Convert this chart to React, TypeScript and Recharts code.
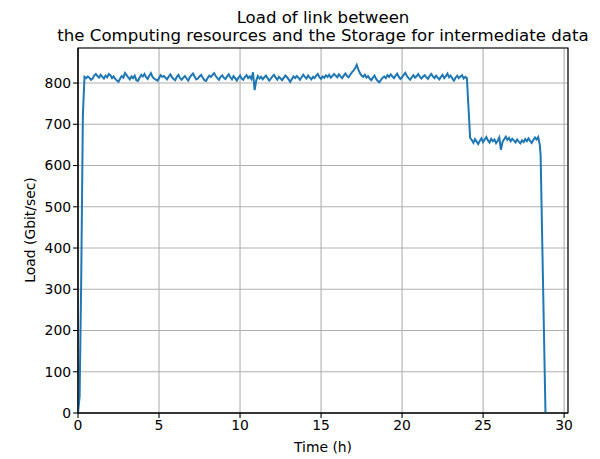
import React from "react";
import {
  LineChart,
  Line,
  XAxis,
  YAxis,
  CartesianGrid,
  ReferenceArea,
  Label,
} from "recharts";

const titleLines = [
  "Load of link between",
  "the Computing resources and the Storage for intermediate data",
];
const xLabel = "Time (h)";
const yLabel = "Load (Gbit/sec)";
const xTicks = [0, 5, 10, 15, 20, 25, 30];
const yTicks = [0, 100, 200, 300, 400, 500, 600, 700, 800];

// ramp-up
const rampTimes = [0, 0.1, 0.2, 0.3];
const rampLoads = [0, 40, 330, 720];

// first plateau, sampled every 0.1 h from 0.4 h to 24.0 h
const plateau1Start = 0.4;
const sampleStep = 0.1;
const plateau1Loads = [
  815, 812, 816, 813, 808, 811, 818, 822, 817, 813,
  820, 815, 811, 818, 814, 822, 819, 812, 816, 810,
  806, 803, 811, 817, 813, 824, 819, 814, 809, 816,
  812, 818, 807, 805, 813, 820, 816, 822, 814, 810,
  818, 824, 815, 811, 808, 806, 812, 819, 815, 817,
  813, 809, 816, 821, 814, 810, 807, 815, 820, 812,
  808, 813, 817, 811, 806, 814, 819, 823, 815, 809,
  811, 816, 820, 813, 807, 805, 812, 818, 815, 820,
  824, 817, 812, 808, 815, 819, 813, 810, 816, 821,
  814, 809, 817, 812, 806, 813, 818, 811, 808, 815,
  819, 812, 816, 810, 826, 783, 806, 817, 811, 815,
  809, 814, 818, 812, 806, 811, 816, 820, 813, 808,
  815, 811, 807, 813, 818, 814, 809, 803, 810, 816,
  812, 817, 813, 808, 814, 820, 815, 811, 818, 813,
  809, 815, 812, 818, 822, 814, 810, 816, 813, 819,
  815, 820, 813, 817, 822, 818, 814, 821, 816, 812,
  818, 823, 817, 814, 820, 826, 830, 836, 844, 833,
  824, 818, 815, 820, 813, 817, 811, 807, 813, 818,
  810, 805, 802, 808, 813, 816, 812, 819, 815, 821,
  816, 812, 818, 823, 815, 810, 814, 820, 825, 817,
  812, 808, 814, 819, 813, 817, 822, 815, 811, 816,
  819, 814, 810, 817, 822, 816, 812, 818, 813, 809,
  815, 820, 812, 817, 823, 814, 818, 811, 806, 813,
  818, 812, 816, 819, 811, 815, 812,
];

// first drop
const drop1Times = [24.1, 24.2];
const drop1Loads = [740, 667];

// second plateau, every 0.1 h from 24.3 h to 28.4 h
const plateau2Start = 24.3;
const plateau2Loads = [
  662, 655, 664, 658, 652, 660, 666, 657, 663, 669,
  661, 656, 665, 659, 663, 654, 660, 668, 638, 657,
  664, 670, 662, 667, 659, 665, 661, 656, 663, 658,
  654, 661, 657, 664, 659, 666, 660, 655, 662, 668,
  663, 669,
];

// final drop
const endTimes = [28.5, 28.55, 28.85];
const endLoads = [650, 625, 0];

const r2 = (v: number) => Math.round(v * 100) / 100;

const data: { t: number; load: number }[] = [];
rampTimes.forEach((t, i) => data.push({ t, load: rampLoads[i] }));
plateau1Loads.forEach((v, i) =>
  data.push({ t: r2(plateau1Start + i * sampleStep), load: v })
);
drop1Times.forEach((t, i) => data.push({ t, load: drop1Loads[i] }));
plateau2Loads.forEach((v, i) =>
  data.push({ t: r2(plateau2Start + i * sampleStep), load: v })
);
endTimes.forEach((t, i) => data.push({ t, load: endLoads[i] }));

const FONT = "'DejaVu Sans', sans-serif";
const X_MAX = 30.24;
const Y_MAX = 885;

export default function App() {
  return (
    <div style={{ position: "absolute", left: 0, top: 0, width: 600, height: 459, background: "#fff" }}>
      <svg
        width={600}
        height={459}
        style={{ position: "absolute", left: 0, top: 0, pointerEvents: "none" }}
      >
        <text x={323} y={23} textAnchor="middle" fontFamily={FONT} fontSize={16.6} fill="#000">
          {titleLines[0]}
        </text>
        <text x={323} y={41} textAnchor="middle" fontFamily={FONT} fontSize={16.6} fill="#000">
          {titleLines[1]}
        </text>
      </svg>
      <LineChart
        width={600}
        height={459}
        data={data}
        margin={{ top: 48, right: 32, bottom: 0, left: 0 }}
        style={{ position: "absolute", left: 0, top: 0 }}
      >
        <CartesianGrid stroke="#b0b0b0" strokeWidth={1.1} />
        <XAxis
          dataKey="t"
          type="number"
          domain={[0, X_MAX]}
          ticks={xTicks}
          height={46}
          allowDataOverflow
          stroke="#000"
          tickSize={4.9}
          tick={{ fill: "#000", fontFamily: FONT, fontSize: 13.9 }}
          axisLine={{ stroke: "#000", strokeWidth: 1.1 }}
          tickLine={{ stroke: "#000", strokeWidth: 1.1 }}
        >
          <Label
            content={() => (
              <text x={323} y={452} textAnchor="middle" fontFamily={FONT} fontSize={13.9} fill="#000">
                {xLabel}
              </text>
            )}
          />
        </XAxis>
        <YAxis
          dataKey="load"
          type="number"
          domain={[0, Y_MAX]}
          ticks={yTicks}
          width={78}
          allowDataOverflow
          stroke="#000"
          tickSize={4.9}
          tick={{ fill: "#000", fontFamily: FONT, fontSize: 13.9 }}
          axisLine={{ stroke: "#000", strokeWidth: 1.1 }}
          tickLine={{ stroke: "#000", strokeWidth: 1.1 }}
        >
          <Label
            content={() => (
              <text
                x={35}
                y={230}
                transform="rotate(-90 35 230)"
                textAnchor="middle"
                fontFamily={FONT}
                fontSize={13.9}
                fill="#000"
              >
                {yLabel}
              </text>
            )}
          />
        </YAxis>
        <ReferenceArea
          x1={0}
          x2={X_MAX}
          y1={0}
          y2={Y_MAX}
          fill="none"
          stroke="#000"
          strokeWidth={1.1}
          fillOpacity={0}
        />
        <Line
          type="linear"
          dataKey="load"
          stroke="#1f77b4"
          strokeWidth={2}
          dot={false}
          isAnimationActive={false}
        />
      </LineChart>
    </div>
  );
}
